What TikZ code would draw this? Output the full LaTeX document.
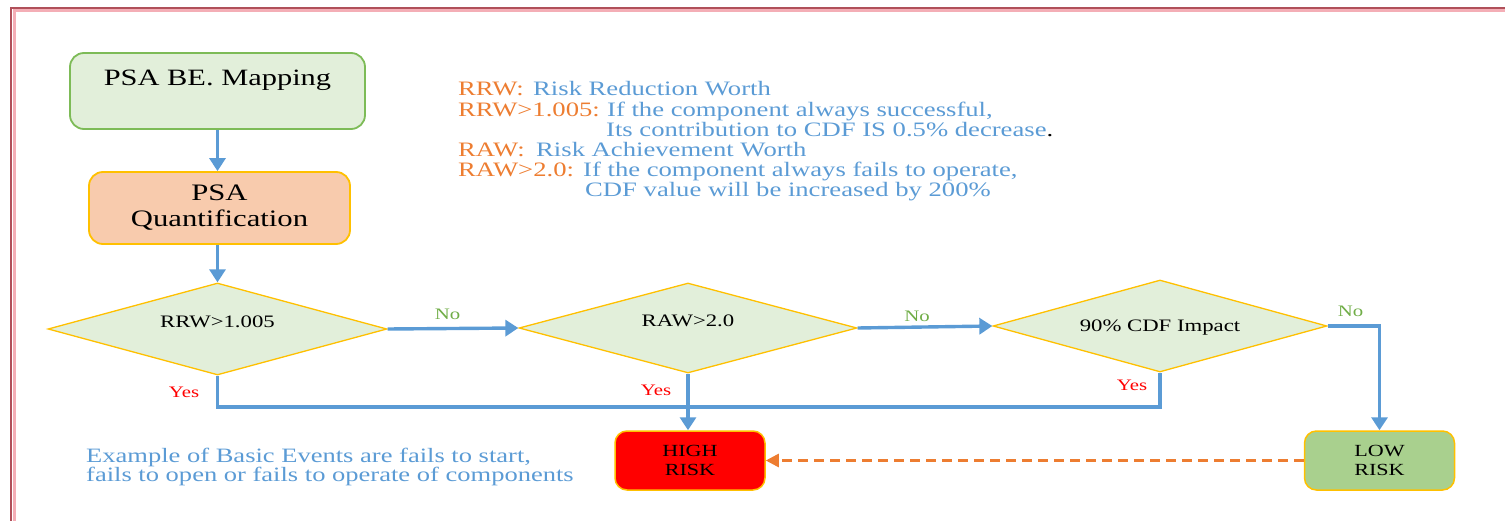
\documentclass[tikz,border=0pt]{standalone}
\usepackage{fontspec}
\setmainfont[FakeStretch=1.3]{Liberation Serif}
\usetikzlibrary{arrows.meta,shapes.geometric}

\definecolor{flowblue}{HTML}{5B9BD5}
\definecolor{noteorange}{HTML}{ED7D31}
\definecolor{nogreen}{HTML}{70AD47}
\definecolor{yesred}{HTML}{FF0000}
\definecolor{mapfill}{HTML}{E2EFDA}
\definecolor{mapline}{HTML}{7DBB57}
\definecolor{quantfill}{HTML}{F8CBAD}
\definecolor{goldline}{HTML}{FFC000}
\definecolor{highfill}{HTML}{FF0000}
\definecolor{lowfill}{HTML}{A9D08E}
\definecolor{framedark}{HTML}{B0505A}
\definecolor{framepink}{HTML}{F4AEB6}

\tikzset{
  procbox/.style={rounded corners=14pt, line width=1.8pt, inner sep=0pt, align=center},
  riskbox/.style={procbox, rounded corners=12pt, line width=1.5pt, draw=goldline,
    minimum width=150pt, minimum height=59pt, font=\fontsize{17}{19}\selectfont},
  decision/.style={diamond, aspect=3.7, draw=goldline, fill=mapfill, line width=1.3pt, inner sep=0pt,
    font=\fontsize{17.5}{20}\selectfont},
  flow/.style={draw=flowblue, line width=3.4pt, -{Triangle[length=13pt,width=16pt]}},
  flowline/.style={draw=flowblue, line width=3.4pt},
  dashflow/.style={draw=noteorange, line width=2.6pt, dash pattern=on 10pt off 6pt,
    -{Triangle[length=13pt,width=13pt]}},
  yeslbl/.style={anchor=base, text=yesred, inner sep=0pt, font=\fontsize{16}{18}\selectfont},
  nolbl/.style={anchor=base, text=nogreen, inner sep=0pt, font=\fontsize{16}{18}\selectfont},
  legkey/.style={anchor=base west, inner sep=0pt, text=noteorange, font=\fontsize{20.5}{20}\selectfont},
  legtext/.style={anchor=base west, inner sep=0pt, text=flowblue, font=\fontsize{20.5}{20}\selectfont},
  exline/.style={anchor=base west, inner sep=0pt, text=flowblue, font=\fontsize{20.4}{19}\selectfont},
}

\begin{document}
\begin{tikzpicture}[x=1pt, y=-1pt]
\useasboundingbox (0,0) rectangle (1505,521);

% page frame
\draw[framepink, line width=3pt] (14.5,521) -- (14.5,10.5) -- (1505,10.5);
\draw[framedark, line width=2pt] (11,521) -- (11,8) -- (1505,8);

% process boxes
\node[procbox, draw=mapline, fill=mapfill, minimum width=295pt, minimum height=76pt,
  text height=15pt, text depth=25pt, font=\fontsize{23.4}{26}\selectfont]
  (map) at (217.5,91) {PSA BE. Mapping};
\node[procbox, draw=goldline, fill=quantfill, minimum width=261pt, minimum height=72pt,
  font=\fontsize{23.6}{26}\selectfont]
  (quant) at (219.5,208) {PSA\\Quantification};

% decisions
\node[decision, minimum width=339pt, minimum height=92pt, text height=12pt, text depth=14pt]
  (d1) at (217.5,329) {RRW>1.005};
\node[decision, minimum width=338pt, minimum height=90pt, text height=12pt, text depth=14.6pt]
  (d2) at (688,328) {RAW>2.0};
\node[decision, minimum width=334pt, minimum height=92pt, text height=15pt, text depth=5pt]
  (d3) at (1160,326) {90\% CDF Impact};

% outcomes
\node[riskbox, fill=highfill] (high) at (690,460.5) {HIGH\\RISK};
\node[riskbox, fill=lowfill] (low) at (1379.5,460.5) {LOW\\RISK};

% connectors
\draw[flow] (map.south) -- (map.south |- quant.north);
\draw[flow] (d1.north |- quant.south) -- (d1.north);
\draw[flow] (d1.east) -- (d2.west);
\draw[flow] (d2.east) -- (d3.west);
\draw[flow] (d3.east) -| (low.north);
\coordinate (bus) at (217.5,407);
\draw[flowline, line join=miter] (d1.south) -- (bus) -| (d3.south);
\draw[flow] (d2.south) -- (d2.south |- high.north);
\draw[dashflow] (low.west) -- (high.east);

% branch labels
\node[nolbl] (no1) at (447.5,320) {No};
\node[nolbl] (no2) at (917,321.5) {No};
\node[nolbl] (no3) at (1350.5,317) {No};
\node[yeslbl] (yes1) at (184,397) {Yes};
\node[yeslbl] (yes2) at (656,395) {Yes};
\node[yeslbl] (yes3) at (1132,390) {Yes};

% legend: keys in orange, explanations in blue
\node[legkey]  (leg1key) at (458,96)  {RRW:};
\node[legtext] (leg1)    at (533,96)  {Risk Reduction Worth};
\node[legkey]  (leg2key) at (458,117) {RRW>1.005:};
\node[legtext] (leg2)    at (607,117) {If the component always successful,};
\node[legtext] (leg3)    at (606,137) {Its contribution to CDF IS 0.5\% decrease\textcolor{black}{.}};
\node[legkey]  (leg4key) at (458,157) {RAW:};
\node[legtext] (leg4)    at (536,157) {Risk Achievement Worth};
\node[legkey]  (leg5key) at (458,177) {RAW>2.0:};
\node[legtext] (leg5)    at (583,177) {If the component always fails to operate,};
\node[legtext] (leg6)    at (585,197) {CDF value will be increased by 200\%};

% note on basic events
\node[exline] (ex1) at (86,462) {Example of Basic Events are fails to start,};
\node[exline] (ex2) at (86,481) {fails to open or fails to operate of components};
\end{tikzpicture}
\end{document}
